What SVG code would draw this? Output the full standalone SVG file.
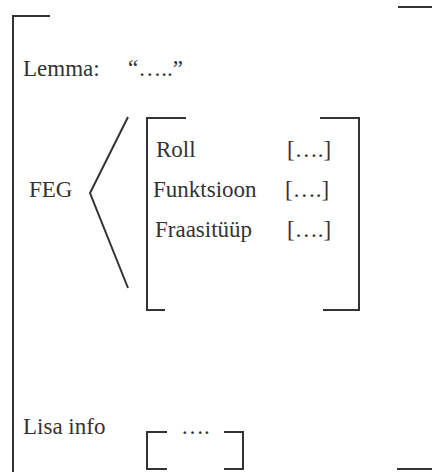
<svg xmlns="http://www.w3.org/2000/svg" width="432" height="472" viewBox="0 0 432 472">
<style>
.ln{fill:none;stroke:#333;stroke-width:2;stroke-linecap:butt;stroke-linejoin:miter}
.t{font-family:"Liberation Serif","Times New Roman",serif;font-size:23px;fill:#333}
</style>
<rect width="432" height="472" fill="#fff"/>
<g id="frame">
<path class="ln" d="M50,16 H13 V472"/>
<path class="ln" d="M398,7 H432"/>
<path class="ln" d="M397,469 H432"/>
</g>
<g id="lemma">
<text class="t" x="23" y="76">Lemma:</text>
<text class="t" x="128" y="76">“…..”</text>
</g>
<g id="feg">
<text class="t" x="29" y="197">FEG</text>
</g>
<g id="connectors">
<path class="ln" d="M128,117 L90,193 L128,288"/>
</g>
<g id="feg-matrix">
<path class="ln" d="M186,118 H147 V310 H165"/>
<path class="ln" d="M320,118 H359 V310 H323"/>
<text class="t" x="156" y="157">Roll</text>
<text class="t" x="287" y="157">[….]</text>
<text class="t" x="153" y="197">Funktsioon</text>
<text class="t" x="285" y="197">[….]</text>
<text class="t" x="155" y="237">Fraasitüüp</text>
<text class="t" x="287" y="237">[….]</text>
</g>
<g id="lisa-info">
<text class="t" x="23" y="434">Lisa info</text>
<path class="ln" d="M167,432 H147 V469 H167"/>
<path class="ln" d="M224,432 H243 V469 H224"/>
<text class="t" x="181" y="434">….</text>
</g>
</svg>
